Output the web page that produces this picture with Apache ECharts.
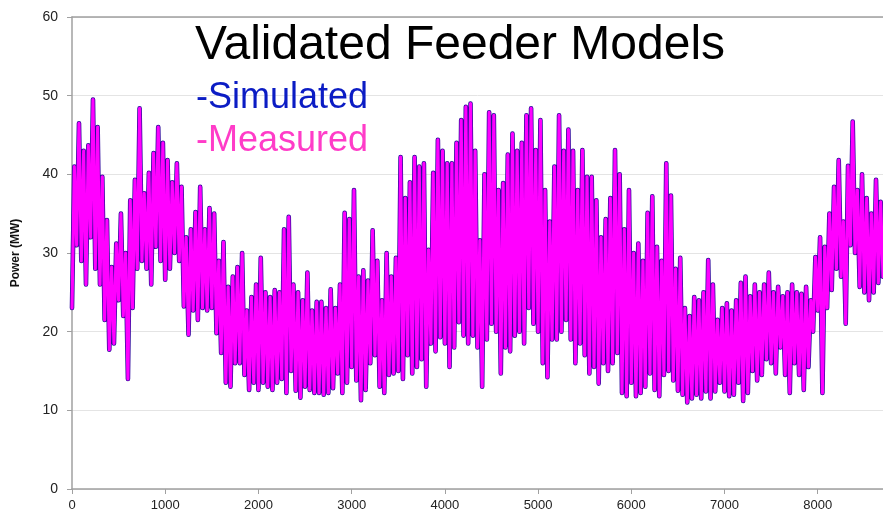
<!DOCTYPE html>
<html>
<head>
<meta charset="utf-8">
<script src="https://cdn.jsdelivr.net/npm/echarts@6/dist/echarts.min.js"></script>
<style>
html,body{margin:0;padding:0;background:#fff;}
#c{width:883px;height:516px;}
</style>
</head>
<body>
<div id="c"></div>
<script>
// Hour-of-year step between successive readings (trough, then peak, every 50 h)
const hourStep = 25;

// Daily low readings (MW), one every 50 h starting at hour 0
const troughValues = [
  23, 31, 29, 26, 32, 28, 26, 21.5, 17.7, 18.5,
  24, 22, 14, 23, 28, 29, 28, 26, 30.8, 29,
  26.6, 28, 30, 29, 23.2, 19.6, 22.7, 21.5, 23, 22.7,
  23, 19.8, 17.3, 13.5, 13, 16, 16, 14.5, 12.6, 13.5,
  12.6, 13.5, 13, 12.6, 13.5, 14, 12.2, 15, 12.5, 11.6,
  13, 12.6, 12.2, 12.2, 12, 12.2, 12.8, 14.7, 12.2, 13.5,
  15.5, 13.8, 11.3, 12.6, 16, 17, 13, 12.2, 14.5, 14.7,
  15, 14, 17, 14.7, 15.5, 16.5, 13, 18.5, 17.5, 19.3,
  18.5, 15.5, 18, 21.2, 19.5, 18.5, 19.5, 18, 13, 19,
  21, 20, 14.7, 18, 17.5, 19.5, 20, 18.5, 23, 21,
  20, 16, 14.2, 19, 19, 20, 21.5, 19, 16, 18.5,
  17, 14.7, 15.5, 13.4, 16, 15, 16, 17.3, 12.2, 11.8,
  13.5, 11.8, 12.2, 13, 14.7, 12.6, 11.8, 14.5, 15, 13.8,
  12.5, 12, 11, 11.5, 12, 11.5, 12.4, 11.5, 12.4, 13.5,
  12.4, 11.8, 12, 13.5, 11.2, 12.2, 15, 13.8, 14.5, 16.5,
  16, 14.7, 18, 14.5, 12.2, 16, 14.5, 12.6, 15.5, 20,
  22.7, 12.2, 23, 25.3, 28, 27, 21, 31, 30, 25.7,
  25, 24, 25, 26.2, 27
];

// Daily high readings (MW), one every 50 h starting at hour 25
const peakValues = [
  41, 46.5, 43, 43.7, 49.5, 46, 39.7, 34.2, 28.2, 31.2,
  35, 30, 36.7, 39.3, 48.4, 37.6, 40.2, 42.7, 46, 44,
  41.8, 39, 41.4, 38.4, 32, 33, 35.2, 38.4, 33, 35.7,
  35, 29, 31.4, 25.7, 27, 28.2, 30, 22.7, 24.4, 26,
  29.4, 25, 24.4, 25.3, 25, 33, 34.6, 26, 25, 24,
  27.5, 22.7, 23.8, 23.8, 23, 25.4, 23, 26, 35.1, 34.3,
  38, 27, 27.8, 26.5, 32.9, 29, 24, 30, 27, 29.4,
  42.2, 37, 39, 42.2, 41, 41.4, 30.4, 40.2, 44.4, 43,
  41.4, 41.4, 44, 46.9, 48.6, 49, 43, 31.6, 40, 47.9,
  47.5, 38, 38.9, 42.5, 45.2, 43, 44, 47.5, 48.4, 43.1,
  46.9, 38, 34, 41, 47.5, 43, 45.7, 43, 38, 43.1,
  39.7, 39.7, 36.7, 32, 34.3, 37, 43.1, 40, 33, 38,
  30, 31.2, 29, 35.1, 37.2, 30.8, 29, 41.4, 37.3, 28,
  29.4, 23, 22, 24.4, 24, 25, 29.1, 26, 21.5, 23,
  23.6, 22.7, 24, 26.2, 27, 24.5, 26, 25, 26, 27.5,
  25, 25.7, 24.5, 25, 26, 25, 24.8, 25.7, 24, 29.5,
  32, 30.8, 35, 38.4, 41.8, 34, 41.1, 46.7, 38, 40,
  37, 35, 39.3, 36.5
];

// Simulated and measured traces overlap so closely in the picture that
// the same readings serve for both.
const measuredLows = troughValues;
const measuredHighs = peakValues;
const simulatedLows = troughValues;
const simulatedHighs = peakValues;

const titleText = 'Validated Feeder Models';
const simulatedLabel = '-Simulated';
const measuredLabel = '-Measured';
const yAxisName = 'Power (MW)';

function buildSeries(lows, highs) {
  const out = [];
  for (let i = 0; i < lows.length; i++) {
    out.push([i * 2 * hourStep, lows[i]]);
    if (i < highs.length) out.push([i * 2 * hourStep + hourStep, highs[i]]);
  }
  return out;
}

const chart = echarts.init(document.getElementById('c'), null, {renderer: 'canvas'});
const axisGrey = '#a0a0a0';
const font = '"Liberation Sans", Arial, sans-serif';

chart.setOption({
  backgroundColor: '#ffffff',
  animation: false,
  grid: {left: 72, right: 0, top: 17, bottom: 27, containLabel: false, outerBoundsMode: 'none'},
  xAxis: [{
    type: 'value', min: 0, max: 8700, interval: 1000,
    axisLine: {show: true, lineStyle: {color: axisGrey, width: 1.5}},
    axisTick: {show: true, length: 5, lineStyle: {color: axisGrey}},
    axisLabel: {color: '#222', fontSize: 13, fontFamily: font, margin: 10, showMaxLabel: false,
      formatter: function (v) { return String(v); }},
    splitLine: {show: false}
  }, {
    type: 'value', min: 0, max: 8700, position: 'top',
    axisLine: {show: true, onZero: false, lineStyle: {color: axisGrey, width: 1.5}},
    axisTick: {show: false}, axisLabel: {show: false}, splitLine: {show: false}
  }],
  yAxis: {
    type: 'value', min: 0, max: 60, interval: 10,
    name: yAxisName, nameLocation: 'middle', nameGap: 50, nameRotate: 90,
    nameTextStyle: {fontWeight: 'bold', fontSize: 12, color: '#111', fontFamily: font},
    axisLine: {show: true, lineStyle: {color: axisGrey, width: 1.5}},
    axisTick: {show: true, length: 5, lineStyle: {color: axisGrey}},
    axisLabel: {color: '#222', fontSize: 14, fontFamily: font, margin: 14},
    splitLine: {show: true, lineStyle: {color: '#e4e4e4', width: 1}}
  },
  title: [
    {text: titleText, left: 190, top: 17, textStyle: {fontSize: 48, fontWeight: 'normal', color: '#000', fontFamily: font}},
    {text: simulatedLabel, left: 191, top: 75, textStyle: {fontSize: 36, fontWeight: 'normal', color: '#0b1cc4', fontFamily: font}},
    {text: measuredLabel, left: 191, top: 118, textStyle: {fontSize: 36, fontWeight: 'normal', color: '#ff3cc8', fontFamily: font}}
  ],
  series: [
    {
      name: 'Simulated', type: 'line', showSymbol: false, symbol: 'none',
      data: buildSeries(simulatedLows, simulatedHighs),
      lineStyle: {color: '#2e0c9c', width: 4.6, join: 'round', cap: 'round'}, z: 2
    },
    {
      name: 'Measured', type: 'line', showSymbol: false, symbol: 'none',
      data: buildSeries(measuredLows, measuredHighs),
      lineStyle: {color: '#ff00ff', width: 3.1, join: 'round', cap: 'round'}, z: 3
    }
  ]
});
</script>
</body>
</html>
